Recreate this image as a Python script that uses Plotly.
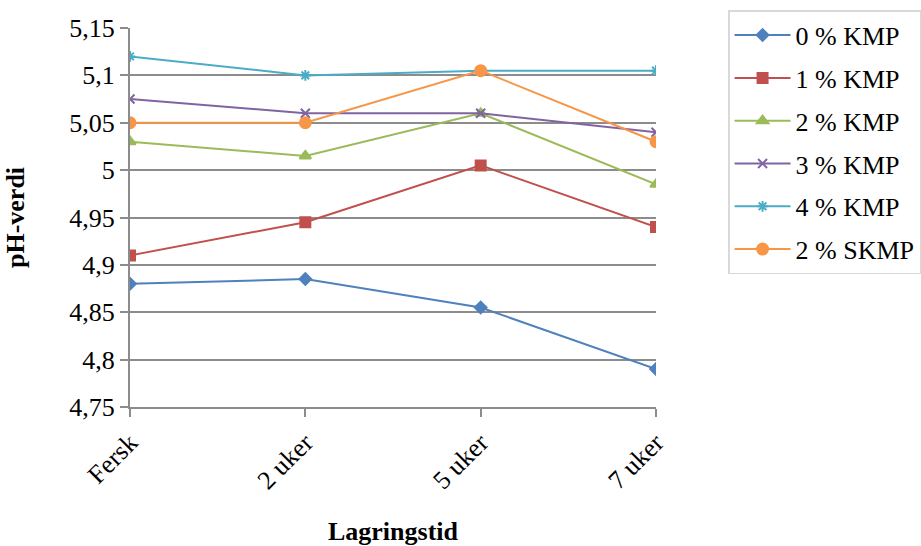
import plotly.graph_objects as go

# Storage time categories
storage_time = ["Fersk", "2 uker", "5 uker", "7 uker"]

# pH values per formulation
ph_0_kmp = [4.88, 4.885, 4.855, 4.79]
ph_1_kmp = [4.91, 4.945, 5.005, 4.94]
ph_2_kmp = [5.03, 5.015, 5.06, 4.985]
ph_3_kmp = [5.075, 5.06, 5.06, 5.04]
ph_4_kmp = [5.12, 5.1, 5.105, 5.105]
ph_2_skmp = [5.05, 5.05, 5.105, 5.03]

y_ticks = [4.75, 4.8, 4.85, 4.9, 4.95, 5.0, 5.05, 5.1, 5.15]
y_tick_text = ["4,75", "4,8", "4,85", "4,9", "4,95", "5", "5,05", "5,1", "5,15"]

series = [
    ("0 % KMP", ph_0_kmp, "#4F81BD", "diamond", 9),
    ("1 % KMP", ph_1_kmp, "#C0504D", "square", 10),
    ("2 % KMP", ph_2_kmp, "#9BBB59", "triangle-up", 10),
    ("3 % KMP", ph_3_kmp, "#8064A2", "x-thin-open", 9),
    ("4 % KMP", ph_4_kmp, "#4BACC6", "asterisk-open", 9),
    ("2 % SKMP", ph_2_skmp, "#F79646", "circle", 11),
]

fig = go.Figure()
for i, (name, vals, color, symbol, size) in enumerate(series):
    fig.add_trace(go.Scatter(
        x=storage_time,
        y=vals,
        name=name,
        legendgroup=f"g{i}",
        mode="lines+markers",
        line=dict(color=color, width=2),
        marker=dict(symbol=symbol, size=size, color=color,
                    line=dict(color=color, width=2)),
    ))

font_family = "Liberation Serif"

fig.update_layout(
    width=921,
    height=546,
    margin=dict(l=130, r=265, t=28, b=139, autoexpand=False),
    paper_bgcolor="white",
    plot_bgcolor="white",
    font=dict(family=font_family, size=26, color="black"),
    showlegend=True,
    legend=dict(
        x=1.137, y=1.047, xanchor="left", yanchor="top",
        bordercolor="#D9D9D9", borderwidth=1.5,
        font=dict(family=font_family, size=26, color="black"),
        tracegroupgap=6,
        itemwidth=56,
        maxheight=540,
    ),
    xaxis=dict(
        type="category",
        range=[0, 3],
        automargin=False,
        showgrid=False,
        showline=True, linecolor="#8C8C8C", linewidth=2,
        ticks="outside", ticklen=8, tickcolor="#8C8C8C", tickwidth=2,
        tickangle=-45,
        tickfont=dict(family=font_family, size=26),
        title=dict(text="<b>Lagringstid</b>", font=dict(family=font_family, size=26),
                   standoff=30),
    ),
    yaxis=dict(
        range=[4.75, 5.15],
        automargin=False,
        tickvals=y_ticks,
        ticktext=y_tick_text,
        showgrid=True, gridcolor="#8C8C8C", gridwidth=2,
        showline=True, linecolor="#8C8C8C", linewidth=2,
        ticks="outside", ticklen=8, tickcolor="#8C8C8C", tickwidth=2,
        tickfont=dict(family=font_family, size=26),
        zeroline=False,
        title=dict(text="<b>pH-verdi</b>", font=dict(family=font_family, size=26),
                   standoff=37),
    ),
)

fig.write_html("out.html")
